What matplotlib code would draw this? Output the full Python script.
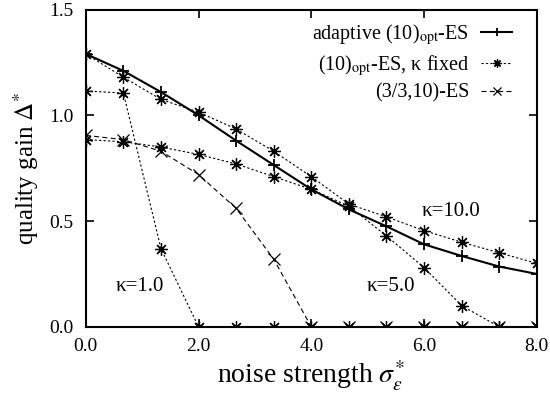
import matplotlib
matplotlib.use("Agg")
import matplotlib.pyplot as plt

plt.rcParams['font.family'] = ['Liberation Serif', 'DejaVu Serif']
plt.rcParams['mathtext.fontset'] = 'stix'

sigma = [0.0, 0.667, 1.333, 2.0, 2.667, 3.333, 4.0, 4.667, 5.333, 6.0, 6.667, 7.333, 8.0]
adaptive = [1.29, 1.21, 1.11, 1.00, 0.88, 0.765, 0.65, 0.555, 0.475, 0.39, 0.335, 0.285, 0.25]
kappa10 = [1.29, 1.18, 1.075, 1.015, 0.935, 0.83, 0.71, 0.58, 0.52, 0.455, 0.40, 0.35, 0.30]
kappa5 = [0.885, 0.875, 0.85, 0.815, 0.77, 0.71, 0.65, 0.57, 0.43, 0.28, 0.10, 0.0, 0.0]
kappa1 = [1.115, 1.105, 0.37, 0.0, 0.0, 0.0, 0.0, 0.0, 0.0, 0.0, 0.0, 0.0, 0.0]
es33 = [0.905, 0.885, 0.83, 0.72, 0.56, 0.32, 0.0, 0.0, 0.0, 0.0, 0.0, 0.0, 0.0]

xticks = [0, 2, 4, 6, 8]
yticks = [0.0, 0.5, 1.0, 1.5]

fig = plt.figure(figsize=(5.5, 4.05), dpi=100)
ax = fig.add_axes([0.156, 0.193, 0.82, 0.7835])

ast = (8, 2, 0)
dot = (0, (2.0, 2.0))
dash = (0, (4.5, 3.0))

ax.plot(sigma, adaptive, color='black', lw=1.5, marker='+', ms=9, mew=1.3,
        label=r'adaptive (10)$_{\mathrm{opt}}$-ES', zorder=5)
ax.plot(sigma, kappa10, color='black', lw=0.8, ls=dot, marker=ast, ms=9, mew=0.9,
        label=r'(10)$_{\mathrm{opt}}$-ES, κ fixed')
ax.plot(sigma, kappa5, color='black', lw=0.8, ls=dot, marker=ast, ms=9, mew=0.9)
ax.plot(sigma, kappa1, color='black', lw=0.8, ls=dot, marker=ast, ms=9, mew=0.9)
ax.plot(sigma, es33, color='black', lw=0.8, ls=dash, marker='x', ms=8, mew=0.9,
        label='(3/3,10)-ES')

ax.text(0.96, 0.19, 'κ=1.0', fontsize=15, ha='center', va='center')
ax.text(5.41, 0.19, 'κ=5.0', fontsize=15, ha='center', va='center')
ax.text(6.48, 0.545, 'κ=10.0', fontsize=15, ha='center', va='center')

ax.set_xlim(0, 8)
ax.set_ylim(0, 1.5)
ax.set_xticks(xticks)
ax.set_xticklabels([f'{v:.1f}' for v in xticks])
ax.set_yticks(yticks)
ax.set_yticklabels([f'{v:.1f}' for v in yticks])
ax.tick_params(direction='in', length=6, width=1.2, top=True, right=True,
               labelsize=14)
ax.tick_params(axis='y', pad=9)
ax.tick_params(axis='x', pad=8)
for s in ax.spines.values():
    s.set_linewidth(1.5)

ax.set_xlabel(r'noise strength $\sigma_{\epsilon}^{*}$', fontsize=20, labelpad=3)
ax.set_ylabel(r'quality gain $\Delta^{*}$', fontsize=18, labelpad=6)

leg = ax.legend(loc='upper right', frameon=False, markerfirst=False, fontsize=14.5,
                handlelength=1.5, handletextpad=0.6, labelspacing=0.28,
                borderaxespad=0.0, bbox_to_anchor=(0.962, 0.985))
for h in leg.legend_handles:
    h.set_markersize(6)

fig.savefig('out.png', dpi=100)
